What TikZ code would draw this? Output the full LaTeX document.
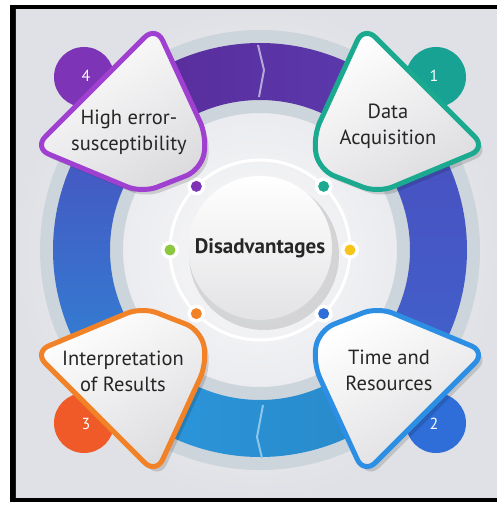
\documentclass[tikz,border=0pt]{standalone}
\usepackage{fontspec}
\setmainfont{PT Sans}
\definecolor{bg}{HTML}{ECEDF2}
\definecolor{ringgray}{HTML}{CDD5DC}
\definecolor{purpA}{HTML}{5A2A98}
\definecolor{purpB}{HTML}{5A3CB0}
\definecolor{indA}{HTML}{4A4EBF}
\definecolor{indB}{HTML}{4063CC}
\definecolor{blueA}{HTML}{2F86D6}
\definecolor{blueL}{HTML}{2C97DD}
\definecolor{oteal}{HTML}{1BA98F}
\definecolor{bteal}{HTML}{17A294}
\definecolor{oblue}{HTML}{2C8FE3}
\definecolor{bblue}{HTML}{2F6ED8}
\definecolor{oorange}{HTML}{F28227}
\definecolor{borange}{HTML}{F05A28}
\definecolor{opurple}{HTML}{A040D0}
\definecolor{bpurple}{HTML}{7E34B6}
\definecolor{dgreen}{HTML}{8DC63F}
\definecolor{dyellow}{HTML}{F6C41A}
\definecolor{shgray}{HTML}{DCDCDF}
\newcommand\annseg[3]{\shade[#3] (#1:207pt) arc[start angle=#1,end angle=#2,radius=207pt] -- (#2:150pt) arc[start angle=#2,end angle=#1,radius=150pt] -- cycle;}
\tikzset{
  label text/.style={font=\fontsize{20.5}{26}\selectfont, text=black!85, align=center, inner sep=0pt},
  num text/.style={font=\fontsize{16}{16}\selectfont, text=white, inner sep=0pt},
}
\begin{document}
\begin{tikzpicture}[x=1pt,y=1pt]
\useasboundingbox (-260,-256) rectangle (237,250);
\fill[white] (-260,-256) rectangle (237,250);
\fill[black] (-250,-252) rectangle (237,245);
\shade[inner color=white!70!bg, outer color=bg!95!black] (-244,-247) rectangle (237,240);
% ring
\fill[ringgray, even odd rule] (0,0) circle[radius=220pt] (0,0) circle[radius=137pt];
\annseg{45}{135}{left color=purpA, right color=purpB}
\annseg{135}{225}{top color=indA, bottom color=blueA}
\annseg{225}{315}{left color=blueL, right color=blueL!90!black}
\annseg{-45}{45}{top color=indA, bottom color=indB}
\draw[white!55!purpB, line width=2pt, line join=round] (-2,205) -- (4,180) -- (-1,153);
\draw[white!45!blueL, line width=2pt, line join=round] (3,-155) -- (-3,-187) -- (2,-208);
% dot ring
\draw[white, line width=3pt] (0,0) circle[radius=90pt];
\foreach \a/\c in {45/oteal,135/bpurple,180/dgreen,0/dyellow,225/oorange,315/bblue}{
  \fill[white] (\a:90pt) circle[radius=9pt];
  \fill[\c] (\a:90pt) circle[radius=5.5pt];
}
% centre disc
\fill[black, opacity=0.12] (4,-5) circle[radius=75pt];
\shade[top color=white, bottom color=shgray!80] (0,2) circle[radius=72pt];
\node[font=\fontsize{21}{21}\selectfont\bfseries, text=black!85] (centre) at (0,2) {Disadvantages};
% tags
\foreach \sx/\sy/\oc/\bc/\num in {1/1/oteal/bteal/1, 1/-1/oblue/bblue/2, -1/-1/oorange/borange/3, -1/1/opurple/bpurple/4}{
  \fill[\bc] (\sx*176,\sy*173) circle[radius=30pt];
  \node[num text] (n\num) at (\sx*174,\sy*174) {\num};
  \fill[black, opacity=0.14, rounded corners=16pt, shift={(4,-5)}]
    (\sx*104,\sy*224) -- (\sx*226,\sy*102) -- (\sx*118,\sy*57) -- (\sx*59,\sy*80) -- (\sx*53,\sy*113) -- cycle;
  \path[draw=\oc, line width=5pt, rounded corners=16pt, top color=white, bottom color=shgray, shading angle=30]
    (\sx*104,\sy*224) -- (\sx*226,\sy*102) -- (\sx*118,\sy*57) -- (\sx*59,\sy*80) -- (\sx*53,\sy*113) -- cycle;
}
\node[label text] (t1) at (128,124) {Data\\Acquisition};
\node[label text] (t2) at (129,-120) {Time and\\Resources};
\node[label text] (t3) at (-137,-121) {Interpretation\\of Results};
\node[label text] (t4) at (-131,118) {High error-\\susceptibility};
\end{tikzpicture}
\end{document}
